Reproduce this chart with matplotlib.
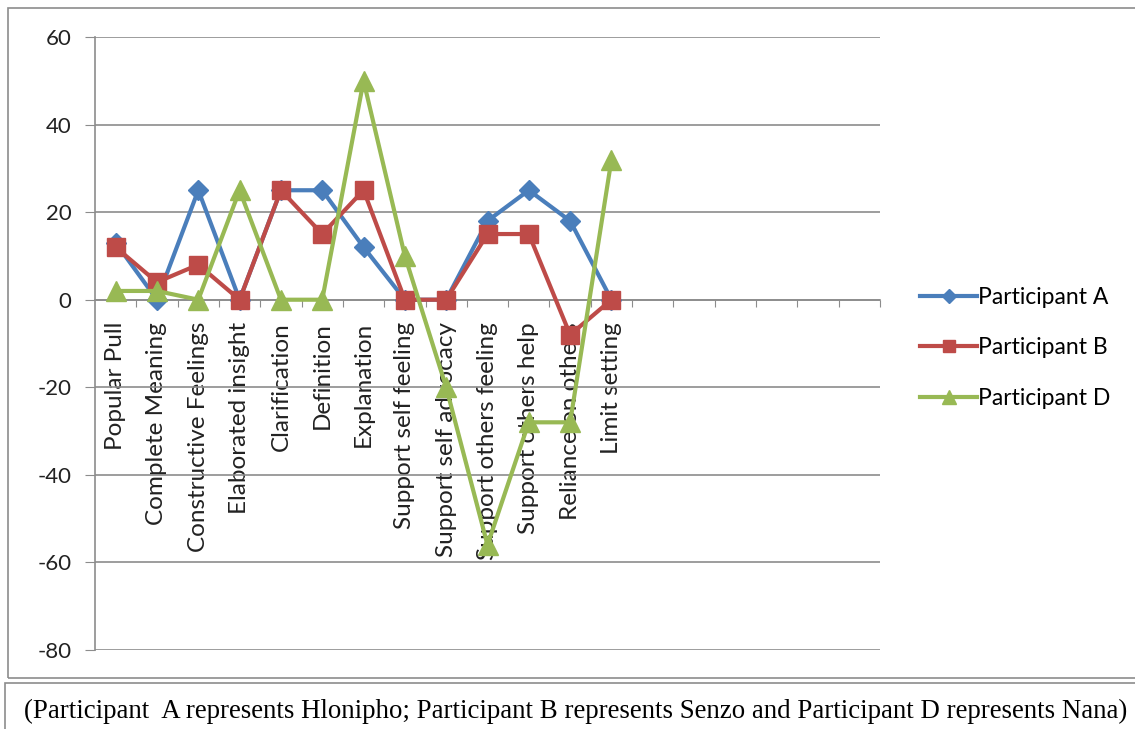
import matplotlib
matplotlib.use("Agg")
import matplotlib.pyplot as plt
from matplotlib.patches import Rectangle
from matplotlib.ticker import FixedLocator, NullFormatter

plt.rcParams['font.family'] = ['Lato', 'DejaVu Sans']
plt.rcParams['axes.unicode_minus'] = False

categories = ["Popular Pull", "Complete Meaning", "Constructive Feelings",
              "Elaborated insight", "Clarification", "Definition", "Explanation",
              "Support self feeling", "Support self advocacy", "Support others feeling",
              "Support others help", "Reliance on others", "Limit setting"]
n_slots = 19  # category axis has empty slots after the last label

participant_a = [13, 0, 25, 0, 25, 25, 12, 0, 0, 18, 25, 18, 0]
participant_b = [12, 4, 8, 0, 25, 15, 25, 0, 0, 15, 15, -8, 0]
participant_d = [2, 2, 0, 25, 0, 0, 50, 10, -20, -56, -28, -28, 32]

y_ticks = [-80, -60, -40, -20, 0, 20, 40, 60]
series_names = ["Participant A", "Participant B", "Participant D"]
caption = "(Participant  A represents Hlonipho; Participant B represents Senzo and Participant D represents Nana)"

W, H = 1135, 729
fig = plt.figure(figsize=(W / 100, H / 100), dpi=100)

# frames
fig.patches.append(Rectangle((8 / W, 1 - 678 / H), (W - 8) / W + 0.01, (678 - 8) / H,
                             transform=fig.transFigure, fill=False, edgecolor='#8c8c8c', lw=1.2))
fig.patches.append(Rectangle((5 / W, 1 - 740 / H), (W - 5) / W + 0.01, (740 - 683) / H,
                             transform=fig.transFigure, fill=False, edgecolor='#8c8c8c', lw=1.2))

ax = fig.add_axes([95 / W, 1 - 650 / H, (880 - 95) / W, (650 - 37) / H])

x = list(range(len(categories)))
blue, red, green = '#4A7EBB', '#BE4B48', '#98B954'
ax.plot(x, participant_a, color=blue, lw=3, marker='D', ms=10, mec=blue, label=series_names[0], zorder=3)
ax.plot(x, participant_b, color=red, lw=3, marker='s', ms=13, mec=red, label=series_names[1], zorder=4)
ax.plot(x, participant_d, color=green, lw=3, marker='^', ms=14, mec=green, label=series_names[2], zorder=5)

ax.set_xlim(-0.5, n_slots - 0.5)
ax.set_ylim(-80, 60)
ax.set_yticks(y_ticks)
ax.set_yticklabels([str(v) for v in y_ticks])
ax.grid(axis='y', color='#8c8c8c', lw=1.2)
ax.set_axisbelow(True)

for s in ['top', 'right']:
    ax.spines[s].set_visible(False)
ax.spines['left'].set_color('#8c8c8c')
ax.spines['left'].set_linewidth(1.2)
ax.spines['bottom'].set_position(('data', 0))
ax.spines['bottom'].set_color('#8c8c8c')
ax.spines['bottom'].set_linewidth(1.2)

ax.tick_params(axis='y', length=7, color='#8c8c8c', labelsize=16, labelcolor='#222222', pad=10)

# major ticks at category boundaries, labels at centers (minor)
ax.xaxis.set_major_locator(FixedLocator([i - 0.5 for i in range(1, n_slots + 1)]))
ax.xaxis.set_major_formatter(NullFormatter())
ax.xaxis.set_minor_locator(FixedLocator(x))
ax.set_xticklabels(categories, minor=True, rotation=90, fontsize=17.5, color='#222222', va='top')
ax.tick_params(axis='x', which='major', length=5, direction='out', color='#8c8c8c')
ax.tick_params(axis='x', which='minor', length=0, pad=16)

fig.legend(loc='center left', bbox_to_anchor=(920 / W, 1 - 348 / H), frameon=False, borderpad=0,
           borderaxespad=0, fontsize=16.5, handlelength=2.5, handletextpad=0.05,
           labelspacing=1.3, markerscale=0.7)

fig.text(1127 / W, 1 - 711 / H, caption, ha='right', va='center',
         family=['Liberation Serif', 'DejaVu Serif'], fontsize=19.4, color='black')

fig.savefig('out.png', dpi=100)
